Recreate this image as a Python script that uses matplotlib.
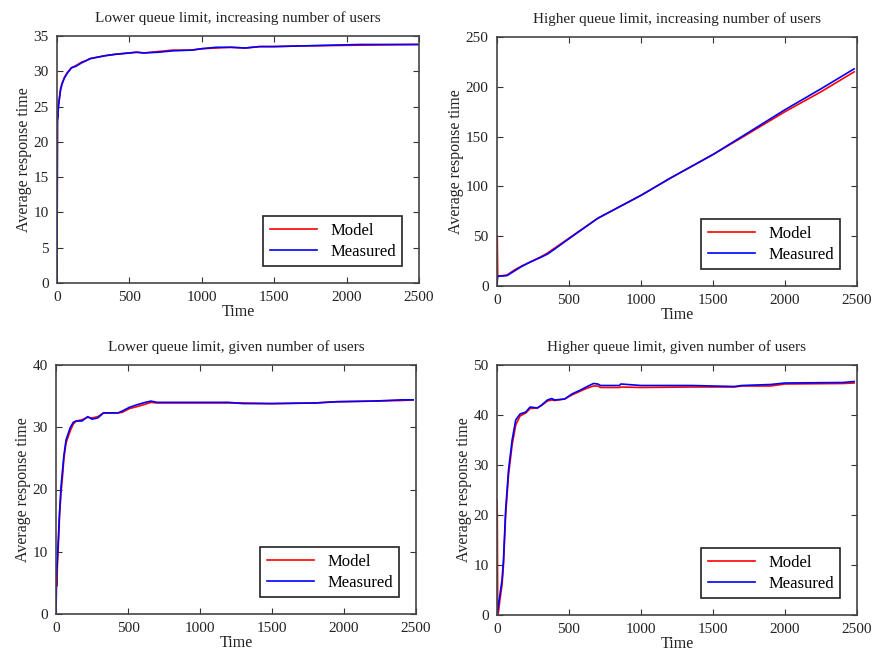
import numpy as np
import matplotlib.pyplot as plt

plt.rcParams['font.family'] = ['Liberation Serif', 'DejaVu Serif']
plt.rcParams['font.size'] = 10.5

# panel 1: lower queue limit, increasing number of users
t1 = [0, 3, 5, 10, 18, 25, 35, 50, 70, 100, 130, 170, 200, 230, 280, 330, 400, 450, 500,
      550, 600, 700, 800, 930, 1000, 1100, 1200, 1300, 1400, 1500, 1700, 2100, 2495]
model1 = [0, 24, 23.5, 25.2, 26.5, 27.6, 28.3, 29.1, 29.8, 30.5, 30.8, 31.3, 31.5, 31.8, 32.0,
          32.2, 32.4, 32.5, 32.6, 32.7, 32.6, 32.8, 33.0, 33.0, 33.2, 33.3, 33.4, 33.3, 33.5,
          33.5, 33.6, 33.7, 33.8]
meas1 = [0, 23.0, 23.2, 25.0, 26.3, 27.4, 28.2, 29.0, 29.7, 30.5, 30.7, 31.2, 31.5, 31.8, 32.0,
         32.2, 32.4, 32.5, 32.6, 32.7, 32.6, 32.7, 32.9, 33.0, 33.2, 33.4, 33.4, 33.3, 33.5,
         33.5, 33.6, 33.8, 33.8]

# panel 2: higher queue limit, increasing number of users
t2 = [0, 2, 5, 10, 40, 70, 120, 170, 230, 300, 350, 400, 500, 700, 1000, 1200, 1500, 1700,
      2000, 2250, 2480]
model2 = [50, 48, 10, 10, 10.5, 11, 16, 20, 24, 29, 33, 38, 48, 68, 91, 108, 132, 149,
          175, 195, 215]
meas2 = [0, 5, 9, 10, 10, 10.5, 15, 19.5, 24, 28.5, 32, 37, 47.5, 68, 91, 108, 132, 150,
         177, 198, 218]

# panel 3: lower queue limit, given number of users
t3 = [0, 3, 6, 10, 18, 25, 35, 45, 55, 70, 85, 100, 120, 140, 180, 220, 250, 290, 330, 430,
      460, 510, 560, 620, 660, 700, 1000, 1200, 1300, 1500, 1800, 1950, 2200, 2400, 2480]
model3 = [8, 7, 4.5, 8, 12, 16, 19.5, 22, 25, 27.5, 28.5, 29.5, 30.5, 31, 31.2, 31.6, 31.5,
          31.7, 32.3, 32.3, 32.4, 33.0, 33.3, 33.7, 34.0, 33.9, 33.9, 33.9, 33.9, 33.8, 33.9,
          34.1, 34.2, 34.3, 34.4]
meas3 = [0, 4, 7, 9, 13, 16.5, 20.5, 23, 25.5, 28, 29, 30, 30.8, 31, 31.0, 31.7, 31.3,
         31.5, 32.3, 32.3, 32.6, 33.2, 33.6, 34.0, 34.2, 34.0, 34.0, 34.0, 33.8, 33.8, 33.9,
         34.1, 34.2, 34.4, 34.4]

# panel 4: higher queue limit, given number of users
t4 = [0, 2, 5, 10, 20, 35, 45, 60, 80, 105, 130, 160, 200, 230, 280, 310, 350, 380, 400,
      470, 520, 580, 620, 670, 700, 720, 850, 860, 1000, 1350, 1650, 1700, 1900, 2000,
      2400, 2480]
model4 = [23, 20, 0, 0.5, 3, 6, 10, 20, 28, 34, 38, 39.8, 40.4, 41.3, 41.4, 41.9, 42.8,
          43.0, 42.9, 43.2, 44.0, 44.8, 45.3, 45.8, 45.8, 45.5, 45.5, 45.6, 45.5, 45.6,
          45.6, 45.8, 45.8, 46.2, 46.3, 46.4]
meas4 = [0, 0, 1, 2, 4, 7, 11, 21, 29, 35, 39, 40.2, 40.6, 41.6, 41.4, 42.0, 43.0, 43.3,
         43.0, 43.2, 44.2, 45.0, 45.6, 46.3, 46.2, 45.9, 45.9, 46.2, 45.9, 45.9, 45.7, 45.9,
         46.1, 46.4, 46.5, 46.7]

panels = [
    ("Lower queue limit, increasing number of users", t1, model1, meas1, 35, 5,
     [57, 36, 419, 283]),
    ("Higher queue limit, increasing number of users", t2, model2, meas2, 250, 50,
     [497, 37, 857, 286]),
    ("Lower queue limit, given number of users", t3, model3, meas3, 40, 10,
     [56, 365, 416, 614]),
    ("Higher queue limit, given number of users", t4, model4, meas4, 50, 10,
     [497, 365, 857, 615]),
]

W, H = 875, 653
fig = plt.figure(figsize=(W / 100, H / 100), dpi=100)

for title, t, model, meas, ymax, ystep, box in panels:
    x0, y0, x1, y1 = box
    ax = fig.add_axes([x0 / W, 1 - y1 / H, (x1 - x0) / W, (y1 - y0) / H])
    ax.plot(t, model, color='#ff0000', lw=1.2, label='Model')
    ax.plot(t, meas, color='#0000ff', lw=1.2, label='Measured')
    ax.set_xlim(0, 2500)
    ax.set_ylim(0, ymax)
    ax.set_xticks(np.arange(0, 2501, 500))
    ax.set_yticks(np.arange(0, ymax + 1, ystep))
    ax.tick_params(direction='in', top=True, right=True, length=4, color='#333333',
                   labelcolor='#222222', labelsize=11, pad=6)
    for sp in ax.spines.values():
        sp.set_color('#444444')
        sp.set_linewidth(1.2)
    ax.set_title(title, fontsize=11, color='#222222', pad=10)
    ax.set_xlabel('Time', fontsize=11.5, color='#222222', labelpad=0)
    ax.set_ylabel('Average response time', fontsize=11.5, color='#222222', labelpad=1)
    leg = ax.legend(loc='lower right', fontsize=12, fancybox=False, framealpha=1,
                    edgecolor='#222222', handlelength=2.8, borderaxespad=1.0,
                    labelspacing=0.3, borderpad=0.4)
    leg.get_frame().set_linewidth(1.2)

fig.savefig('out.png', dpi=100)
